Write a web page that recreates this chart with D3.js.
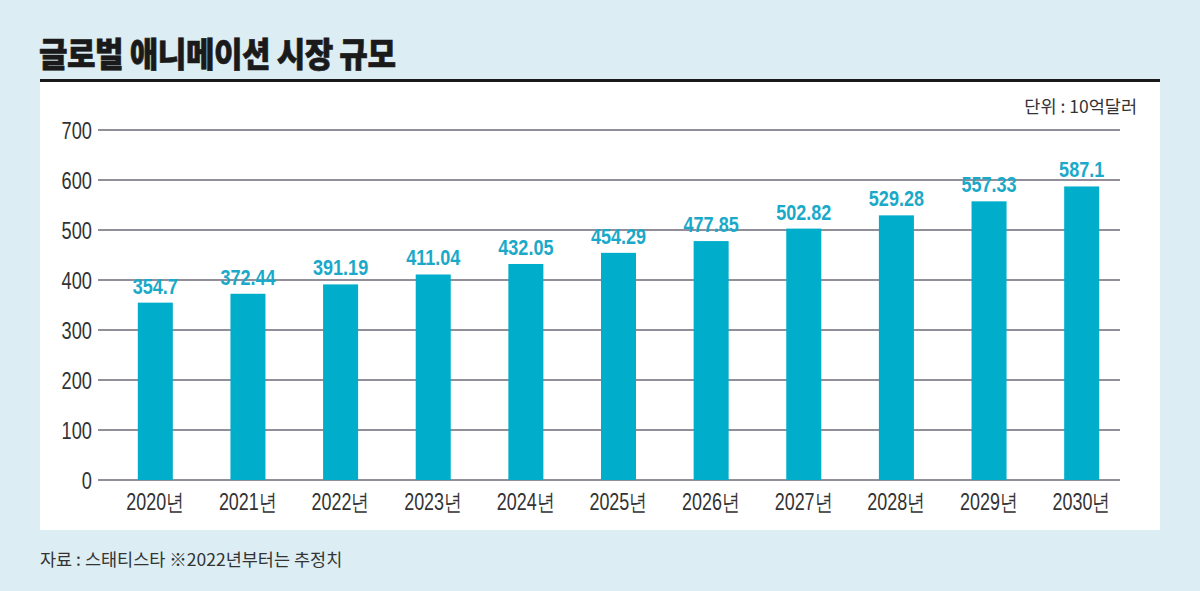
<!DOCTYPE html>
<html><head><meta charset="utf-8">
<script src="https://cdn.jsdelivr.net/npm/d3@7"></script>
<style>
html,body{margin:0;padding:0;background:#dcedf4;}
svg{display:block;}
</style></head>
<body>
<svg id="chart" width="1200" height="591"></svg>
<script>
const title = "글로벌 애니메이션 시장 규모";
const unitLabel = "단위 : 10억달러";
const sourceLabel = "자료 : 스태티스타 ※2022년부터는 추정치";
const years = ["2020년","2021년","2022년","2023년","2024년","2025년","2026년","2027년","2028년","2029년","2030년"];
const values = [354.7, 372.44, 391.19, 411.04, 432.05, 454.29, 477.85, 502.82, 529.28, 557.33, 587.1];
const valueLabels = ["354.7","372.44","391.19","411.04","432.05","454.29","477.85","502.82","529.28","557.33","587.1"];
const yTicks = [0,100,200,300,400,500,600,700];

const svg = d3.select("#chart");
const sans = "'Liberation Sans',Arial,sans-serif";
const kr = "'Noto Sans CJK KR','Noto Sans',sans-serif";

svg.append("rect").attr("x",0).attr("y",0).attr("width",1200).attr("height",591).attr("fill","#dcedf4");
svg.append("rect").attr("x",40).attr("y",81).attr("width",1120).attr("height",449).attr("fill","#ffffff");
svg.append("line").attr("x1",40).attr("x2",1160).attr("y1",80.5).attr("y2",80.5).attr("stroke","#1a1a1a").attr("stroke-width",3);

svg.append("text").attr("transform","translate(39,67) scale(0.97,1.07)").text(title)
  .attr("font-family",kr).attr("font-weight",900).attr("font-size",32).attr("fill","#1a1a1a")
  .attr("stroke","#1a1a1a").attr("stroke-width",0.6)
  .attr("letter-spacing",-0.5);

svg.append("text").attr("x",1137).attr("y",113).attr("text-anchor","end").text(unitLabel)
  .attr("font-family",kr).attr("font-size",17.5).attr("fill","#333");

svg.append("text").attr("x",40).attr("y",566).text(sourceLabel)
  .attr("font-family",kr).attr("font-size",17.5).attr("fill","#333");

const y = d3.scaleLinear().domain([0,700]).range([480,130]);
const x = d3.scaleBand().domain(years).range([109,1128]).paddingInner(0.622).paddingOuter(0.311);

// gridlines
svg.append("g").selectAll("line").data(yTicks).join("line")
  .attr("x1",98).attr("x2",1120)
  .attr("y1",d=>y(d)).attr("y2",d=>y(d))
  .attr("stroke","#6e6878").attr("stroke-width",1.5);

// y tick labels (condensed)
svg.append("g").selectAll("text").data(yTicks).join("text")
  .attr("transform",d=>`translate(92,${y(d)+9}) scale(0.76,1)`).attr("text-anchor","end")
  .text(d=>d).attr("font-family",sans).attr("font-size",24).attr("fill","#333");

// bars
svg.append("g").selectAll("rect").data(values).join("rect")
  .attr("x",(d,i)=>x(years[i])).attr("width",x.bandwidth())
  .attr("y",d=>y(d)).attr("height",d=>y(0)-y(d))
  .attr("fill","#00aecb");

// value labels
svg.append("g").selectAll("text").data(values).join("text")
  .attr("transform",(d,i)=>`translate(${x(years[i])+x.bandwidth()/2},${y(d)-9}) scale(0.82,1)`)
  .attr("text-anchor","middle").text((d,i)=>valueLabels[i])
  .attr("font-family",sans).attr("font-weight",700).attr("font-size",22).attr("fill","#1aa9c8");

// x labels
svg.append("g").selectAll("text").data(years).join("text")
  .attr("transform",d=>`translate(${x(d)+x.bandwidth()/2},510) scale(0.78,1)`).attr("text-anchor","middle")
  .text(d=>d).attr("font-family",sans).attr("font-size",23).attr("fill","#333");
</script>
</body></html>
